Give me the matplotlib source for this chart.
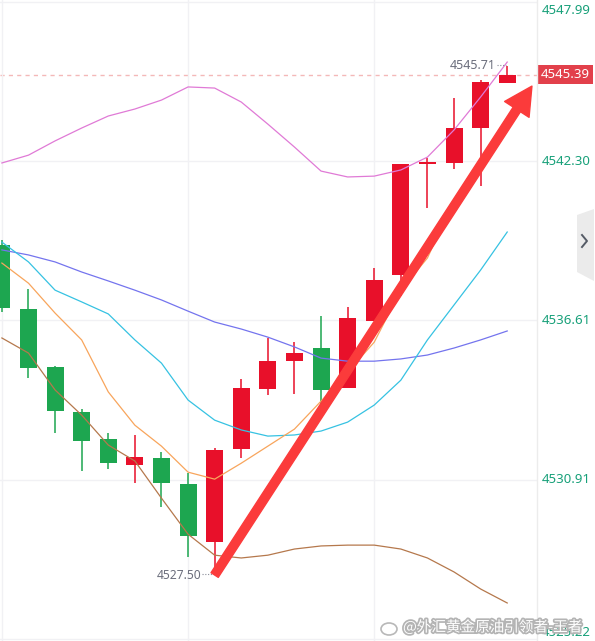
import matplotlib
matplotlib.use('Agg')
import matplotlib.pyplot as plt
import matplotlib.patheffects as pe
from matplotlib.patches import Rectangle, FancyArrowPatch, Polygon, Ellipse
from matplotlib.lines import Line2D

plt.rcParams['font.family'] = ['Noto Sans', 'Noto Sans CJK SC', 'DejaVu Sans']

# candle data (open, high, low, close)
opens = [4539.30, 4537.01, 4534.94, 4533.33, 4532.36, 4531.43, 4531.68, 4530.75, 4528.68, 4532.01,
         4534.15, 4535.15, 4535.62, 4534.19, 4536.59, 4538.23, 4542.22, 4542.24, 4543.49, 4545.10]
highs = [4539.48, 4537.73, 4534.98, 4533.44, 4532.58, 4532.51, 4531.90, 4531.15, 4532.04, 4534.51,
         4535.98, 4535.83, 4536.76, 4537.09, 4538.48, 4542.20, 4542.42, 4544.56, 4545.21, 4545.71]
lows = [4536.91, 4534.55, 4532.58, 4531.22, 4531.29, 4530.79, 4529.93, 4528.14, 4527.50, 4531.68,
        4533.94, 4533.97, 4533.44, 4534.19, 4536.59, 4537.48, 4540.63, 4542.02, 4541.42, 4545.10]
closes = [4537.05, 4534.90, 4533.37, 4532.29, 4531.50, 4531.72, 4530.79, 4528.89, 4531.97, 4534.19,
          4535.15, 4535.44, 4534.12, 4536.69, 4538.05, 4542.20, 4542.25, 4543.49, 4545.14, 4545.39]

# indicator lines
upper_band = [4542.24, 4542.52, 4543.03, 4543.49, 4543.92, 4544.17, 4544.49, 4544.96, 4544.92, 4544.42,
              4543.63, 4542.81, 4541.95, 4541.74, 4541.77, 4541.99, 4542.45, 4543.42, 4544.60, 4545.85]
mid_line = [4539.13, 4538.95, 4538.70, 4538.34, 4538.02, 4537.69, 4537.34, 4536.94, 4536.55, 4536.30,
            4536.01, 4535.66, 4535.26, 4535.15, 4535.15, 4535.23, 4535.37, 4535.62, 4535.91, 4536.23]
ma_cyan = [4539.41, 4538.70, 4537.69, 4537.27, 4536.84, 4535.91, 4535.08, 4533.76, 4533.04, 4532.69,
           4532.47, 4532.51, 4532.65, 4532.97, 4533.58, 4534.47, 4535.91, 4537.16, 4538.41, 4539.77]
ma_orange = [4538.66, 4537.94, 4536.87, 4535.91, 4534.05, 4532.86, 4532.11, 4531.18, 4530.93, 4531.50,
             4532.11, 4532.72, 4533.72, 4534.76, 4535.83, 4537.69, 4538.84, 4540.91, 4542.35, 4543.60]
lower_band = [4535.98, 4535.44, 4534.12, 4533.22, 4532.15, 4531.58, 4530.25, 4528.96, 4528.21, 4528.11,
              4528.21, 4528.43, 4528.54, 4528.57, 4528.57, 4528.43, 4528.11, 4527.61, 4527.00, 4526.50]

axis_ticks = [4547.99, 4542.30, 4536.61, 4530.91, 4525.22]
arrow_start = (8.0, 4527.50)
arrow_end = (19.93, 4544.99)
watermark = '@外汇黄金原油引领者-王者'

RED = '#e8102a'
GREEN = '#1da650'
W, H = 595, 641

fig = plt.figure(figsize=(W / 100, H / 100), dpi=100)
ax = fig.add_axes([0, 0, 537 / W, 1])
ax.set_xlim(-0.071, 20.12)
ax.set_ylim(4525.14, 4548.07)
for s in ax.spines.values():
    s.set_visible(False)
ax.set_yticks(axis_ticks)
ax.set_xticks([0, 7, 14])
ax.tick_params(length=0, labelleft=False, labelbottom=False)
ax.grid(True, color='#f1f1f4', lw=1)

# candles
for i in range(len(opens)):
    o, h, l, c = opens[i], highs[i], lows[i], closes[i]
    col = RED if c >= o else GREEN
    ax.vlines(i, l, h, color=col, lw=1.1, zorder=2)
    ax.add_patch(Rectangle((i - 0.32, min(o, c)), 0.64, max(abs(c - o), 0.04),
                           facecolor=col, edgecolor='none', zorder=3))

# indicator lines
x = list(range(len(opens)))
ax.plot(x, upper_band, color='#e07ad6', lw=0.9, zorder=4)
ax.plot(x, mid_line, color='#7474ee', lw=0.9, zorder=4)
ax.plot(x, ma_cyan, color='#36c2e2', lw=0.9, zorder=4)
ax.plot(x, ma_orange, color='#f8a55c', lw=0.9, zorder=4)
ax.plot(x, lower_band, color='#b5784c', lw=0.9, zorder=4)

# last price dashed line
last = closes[-1]
ax.axhline(last, color='#f4b8b8', lw=1, ls=(0, (3, 3)), zorder=1)

# high / low markers
hi_i = highs.index(max(highs))
lo_i = lows.index(min(lows))
ax.text(hi_i - 0.43, highs[hi_i], f'{highs[hi_i]:.2f}', ha='right', va='center',
        fontsize=9, color='#6b6e7c', zorder=6)
ax.plot([hi_i - 0.4, hi_i - 0.05], [highs[hi_i] + 0.05] * 2, color='#8a8d99', lw=0.8,
        ls=(0, (1, 1.5)), zorder=6)
ax.text(lo_i - 0.5, lows[lo_i], f'{lows[lo_i]:.2f}', ha='right', va='center',
        fontsize=8.7, color='#6b6e7c', zorder=6)
ax.plot([lo_i - 0.47, lo_i - 0.05], [lows[lo_i] + 0.05] * 2, color='#8a8d99', lw=0.8,
        ls=(0, (1, 1.5)), zorder=6)

# big red arrow
arrow = FancyArrowPatch(arrow_start, arrow_end,
                        arrowstyle='simple,head_width=2.1,head_length=2.0,tail_width=0.62',
                        mutation_scale=10, color='#fb3b3b', shrinkA=0, shrinkB=0, zorder=10)
ax.add_patch(arrow)

# right price axis
fig.add_artist(Line2D([537 / W, 537 / W], [0, 1], color='#ececec', lw=1))
fig.canvas.draw()
for v in axis_ticks:
    ypix = ax.transData.transform((0, v))[1]
    ypix = min(max(ypix, 9), H - 11)
    fig.text(542 / W, ypix / H, f'{v:.2f}', ha='left', va='center', fontsize=9.5,
             color='#17a079', fontweight='medium')

ylast = ax.transData.transform((0, last))[1]
fig.add_artist(Rectangle((538 / W, (ylast - 9.5) / H), 55 / W, 19 / H,
                         transform=fig.transFigure, facecolor='#e2404b', edgecolor='none'))
fig.text(565.5 / W, ylast / H, f'{last:.2f}', ha='center', va='center', fontsize=9.5,
         color='white', fontweight='bold')

# collapse tab
tab = Polygon([(577 / W, 1 - 215 / H), (594 / W, 1 - 209 / H), (594 / W, 1 - 281 / H),
               (577 / W, 1 - 272 / H)], closed=True, transform=fig.transFigure,
              facecolor='#ebebeb', edgecolor='none')
fig.add_artist(tab)
fig.add_artist(Line2D([582 / W, 587 / W, 582 / W], [1 - 235 / H, 1 - 241 / H, 1 - 247 / H],
                      color='#555b66', lw=1.4))

# watermark
fig.add_artist(Ellipse((389 / W, 1 - 629 / H), 16 / W, 12 / H, transform=fig.transFigure,
                       facecolor='white', edgecolor='#b8b8b8', lw=1.2))
fig.text(403 / W, 1 - 627 / H, watermark, ha='left', va='center', fontsize=10.5,
         color='white', family=['Noto Sans CJK SC', 'DejaVu Sans'],
         path_effects=[pe.withStroke(linewidth=2.5, foreground='#b4b4b4')])

fig.savefig('out.png', dpi=100)
